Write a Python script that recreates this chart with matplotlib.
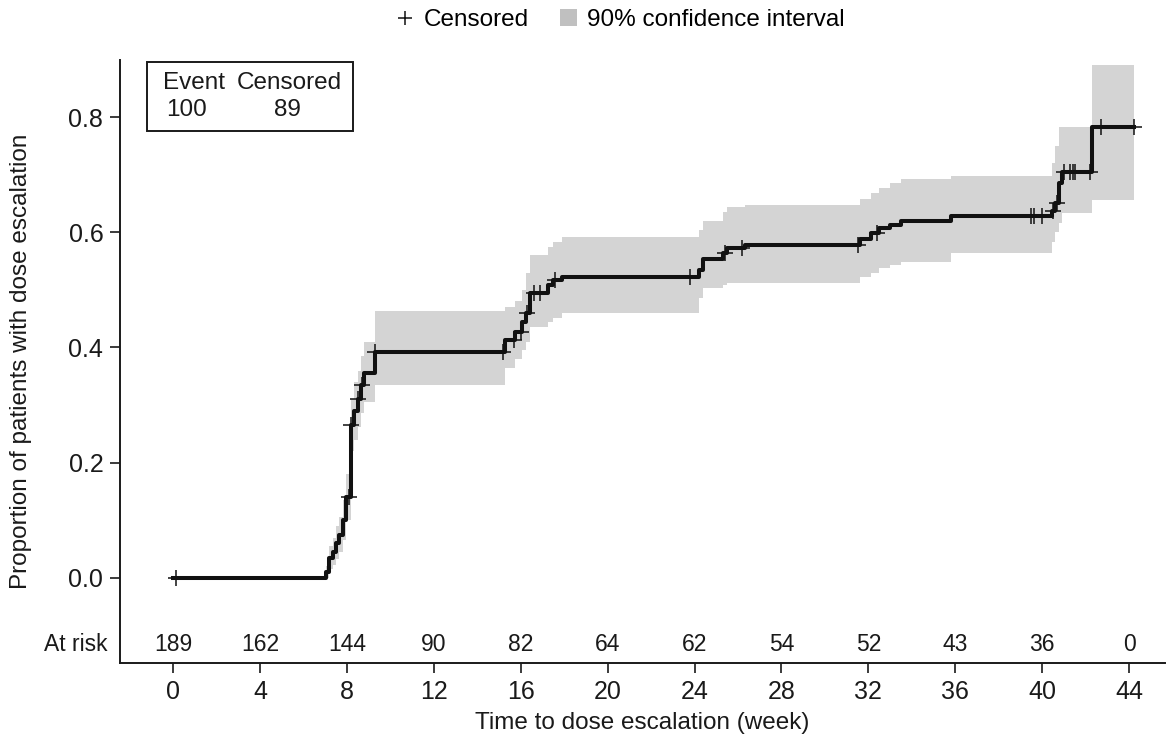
import numpy as np
import matplotlib.pyplot as plt
from matplotlib.lines import Line2D
from matplotlib.patches import Patch, Rectangle

plt.rcParams['font.family'] = ['Liberation Sans', 'DejaVu Sans']

# Kaplan-Meier style step curve (weeks, cumulative proportion)
times = [0, 7.05, 7.2, 7.35, 7.5, 7.65, 7.8, 7.95, 8.2, 8.35, 8.5, 8.65, 8.8, 9.3,
         15.3, 15.75, 16.05, 16.25, 16.45, 17.25, 17.5, 17.9, 24.2, 24.4, 25.3, 25.5,
         26.3, 31.6, 32.1, 32.5, 33.0, 33.5, 35.8, 40.45, 40.6, 40.75, 40.9, 42.3, 44.2]
props = [0.0, 0.01, 0.035, 0.045, 0.06, 0.075, 0.10, 0.14, 0.265, 0.29, 0.31, 0.335, 0.355, 0.393,
         0.413, 0.427, 0.444, 0.46, 0.495, 0.509, 0.517, 0.522, 0.535, 0.554, 0.564, 0.573,
         0.578, 0.589, 0.598, 0.607, 0.613, 0.62, 0.628, 0.637, 0.651, 0.685, 0.705, 0.782, 0.782]

# 90% confidence interval at the same step times
ci_low = [0.0, 0.0, 0.015, 0.022, 0.033, 0.045, 0.065, 0.10, 0.22, 0.24, 0.262, 0.286, 0.305, 0.335,
          0.365, 0.38, 0.396, 0.41, 0.436, 0.445, 0.451, 0.46, 0.486, 0.503, 0.508, 0.512,
          0.512, 0.523, 0.53, 0.538, 0.543, 0.549, 0.564, 0.583, 0.60, 0.616, 0.634, 0.656, 0.656]
ci_high = [0.0, 0.02, 0.055, 0.07, 0.09, 0.105, 0.135, 0.18, 0.31, 0.34, 0.36, 0.385, 0.41, 0.463,
           0.47, 0.48, 0.50, 0.53, 0.56, 0.575, 0.583, 0.592, 0.604, 0.62, 0.635, 0.644,
           0.647, 0.658, 0.668, 0.676, 0.686, 0.692, 0.698, 0.72, 0.75, 0.783, 0.783, 0.89, 0.89]

censor_times = [0.15, 8.1, 8.2, 8.5, 8.7, 9.3, 15.2, 15.7, 16.0, 16.3, 16.6, 16.9, 17.6,
                23.8, 25.4, 26.2, 31.5, 32.4, 39.5, 39.6, 40.0, 40.5, 40.7, 41.0, 41.3,
                41.4, 41.5, 42.2, 42.7, 44.2]

risk_weeks = [0, 4, 8, 12, 16, 20, 24, 28, 32, 36, 40, 44]
at_risk = [189, 162, 144, 90, 82, 64, 62, 54, 52, 43, 36, 0]

n_event = 100
n_censored = 89

times = np.array(times)
props = np.array(props)
idx = np.searchsorted(times, censor_times, side='right') - 1
censor_props = props[idx]

fig = plt.figure(figsize=(11.73, 7.43), dpi=100)
ax = fig.add_axes([0.1023, 0.1077, 0.8909, 0.8116])

FS = 17.5
ink = '#1a1a1a'
band_color = '#d4d4d4'
ax.fill_between(times, ci_low, ci_high, step='post', color=band_color, lw=0)
ax.step(times, props, where='post', color='#111111', lw=2.9)
ax.plot(censor_times, censor_props, ls='none', marker='+', color='#111111',
        markersize=11, mew=1.1)

ax.set_xlim(-2.44, 45.65)
ax.set_ylim(-0.1476, 0.899)
ax.set_xticks(risk_weeks)
ax.set_yticks([0.0, 0.2, 0.4, 0.6, 0.8])
ax.set_yticklabels(['0.0', '0.2', '0.4', '0.6', '0.8'])
ax.tick_params(labelsize=18, length=7, width=1.2, color=ink, labelcolor=ink, pad=5)
for s in ['top', 'right']:
    ax.spines[s].set_visible(False)
for s in ['left', 'bottom']:
    ax.spines[s].set_linewidth(1.4)
    ax.spines[s].set_color(ink)

ax.set_xlabel('Time to dose escalation (week)', fontsize=FS, color=ink, labelpad=6)
ax.set_ylabel('Proportion of patients with dose escalation', fontsize=FS, color=ink,
              labelpad=26)

# at-risk row
risk_y = -0.116
for w, n in zip(risk_weeks, at_risk):
    ax.text(w, risk_y, str(n), ha='center', va='center', fontsize=16.5, color=ink)
ax.text(-3.0, risk_y, 'At risk', ha='right', va='center', fontsize=16.5, color=ink,
        clip_on=False)

# event / censored box
ax.add_patch(Rectangle((0.0258, 0.882), 0.197, 0.1144, transform=ax.transAxes,
                       fill=False, lw=1.4, ec=ink))
ax.text(0.071, 0.962, 'Event', transform=ax.transAxes, ha='center', va='center',
        fontsize=FS, color=ink)
ax.text(0.162, 0.962, 'Censored', transform=ax.transAxes, ha='center', va='center',
        fontsize=FS, color=ink)
ax.text(0.064, 0.917, str(n_event), transform=ax.transAxes, ha='center', va='center',
        fontsize=FS, color=ink)
ax.text(0.160, 0.917, str(n_censored), transform=ax.transAxes, ha='center', va='center',
        fontsize=FS, color=ink)

handles = [Line2D([], [], ls='none', marker='+', color='#111111', markersize=10, mew=1.1),
           Patch(facecolor='#c0c0c0', edgecolor='none')]
fig.legend(handles, ['Censored', '90% confidence interval'], loc='center',
           bbox_to_anchor=(0.529, 0.973), ncol=2, frameon=False, fontsize=FS,
           handlelength=0.7, handleheight=0.7, handletextpad=0.4, columnspacing=1.3)

fig.savefig('out.png', dpi=100)
